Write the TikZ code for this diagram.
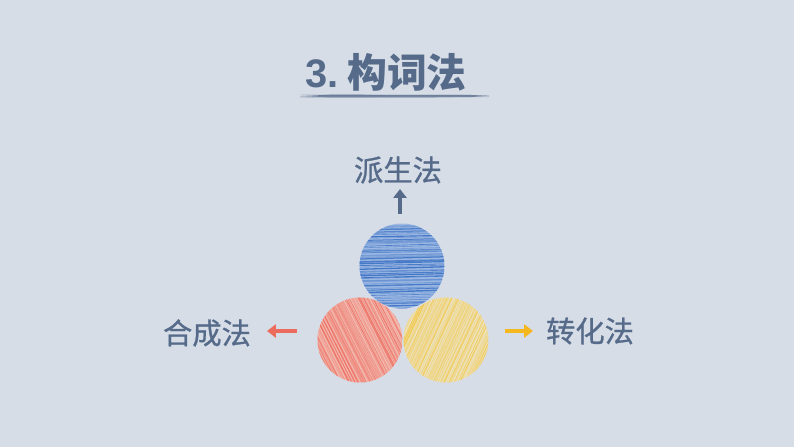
\documentclass[tikz,border=0pt]{standalone}
\usepackage{fontspec}
\usepackage{tikz}
\usetikzlibrary{arrows.meta, calc}
\newfontfamily\cjk{Noto Sans CJK SC}
\newfontfamily\cjkmid[FakeBold=0.9]{Noto Sans CJK SC}
\newfontfamily\latin{Liberation Sans}

\definecolor{bgcol}{HTML}{D6DDE7}
\definecolor{inkcol}{HTML}{566B8A}
\definecolor{bluebase}{HTML}{9DB9E3}
\definecolor{blueline}{HTML}{3C72C4}
\definecolor{redbase}{HTML}{F2B8AE}
\definecolor{redline}{HTML}{EE7467}
\definecolor{yelbase}{HTML}{ECE2BE}
\definecolor{yelline}{HTML}{F2CA52}
\definecolor{yelarrow}{HTML}{F5B71E}
\definecolor{redarrow}{HTML}{EB6B5C}

\tikzset{
  ball/.style={circle, inner sep=0pt, minimum size=2.55cm},
  label/.style={text=inkcol, font=\cjkmid\fontsize{25}{28}\selectfont},
  fat arrow/.style={line width=4.2pt, -{Triangle[width=11pt, length=7.5pt]}},
}

\begin{document}
\begin{tikzpicture}[x=0.03cm, y=-0.03cm]
    % Фон
    \fill[bgcol] (0,0) rectangle (794,447);
    \useasboundingbox (0,0) rectangle (794,447);

    % Заголовок
    \node[text=inkcol, font=\cjk\bfseries\fontsize{34}{36}\selectfont] (title) at (386,72)
        {{\latin\bfseries 3.}\hspace{0.22em}构词法};
    \fill[inkcol, opacity=0.85] (302,96) -- (330,94.7) -- (470,94.9) -- (487,95.8)
        -- (470,97.2) -- (330,97.4) -- cycle;
    \foreach \dy in {-1.2, 0.4, 1.5}
        \draw[inkcol!70!white, line width=0.4pt, opacity=0.6] (300,96+\dy) -- (489,96+\dy*0.6);

    % Круги
    \node[ball] (red) at (360,340) {};
    \node[ball] (yellow) at (446,340) {};
    \node[ball] (blue) at (402,266) {};

    % Штриховка
    \pgfmathsetseed{17}
    \foreach \name/\ang/\base/\ink in {red/63/redbase/redline, yellow/115/yelbase/yelline, blue/-1.5/bluebase/blueline}
    {
        \begin{scope}
            \clip (\name.center) circle (42.5);
            \fill[\base] (\name.center) circle (42.5);
            \foreach \s in {-46,-44.4,...,46}
            {
                \pgfmathsetmacro{\ss}{\s+0.7*rand}
                \pgfmathsetmacro{\w}{0.35+0.9*rnd}
                \pgfmathsetmacro{\op}{0.3+0.65*rnd}
                \draw[\ink, line width=\w pt, opacity=\op]
                    ($(\name.center)+({-\ss*sin(\ang)-60*cos(\ang)},{\ss*cos(\ang)-60*sin(\ang)})$)
                    -- ($(\name.center)+({-\ss*sin(\ang)+60*cos(\ang)},{\ss*cos(\ang)+60*sin(\ang)+rand})$);
            }
        \end{scope}
    }

    % Подписи
    \node[label] (derive) at (398,170) {派生法};
    \node[label] (compose) at (207,333) {合成法};
    \node[label] (convert) at (590,331) {转化法};

    % Стрелки
    \coordinate (up-a) at (400,214);
    \coordinate (up-b) at (400,189);
    \coordinate (left-a) at (297,331);
    \coordinate (left-b) at (267,331);
    \coordinate (right-a) at (505,331);
    \coordinate (right-b) at (533,331);
    \draw[fat arrow, inkcol] (up-a) -- (up-b);
    \draw[fat arrow, redarrow] (left-a) -- (left-b);
    \draw[fat arrow, yelarrow] (right-a) -- (right-b);
\end{tikzpicture}
\end{document}
